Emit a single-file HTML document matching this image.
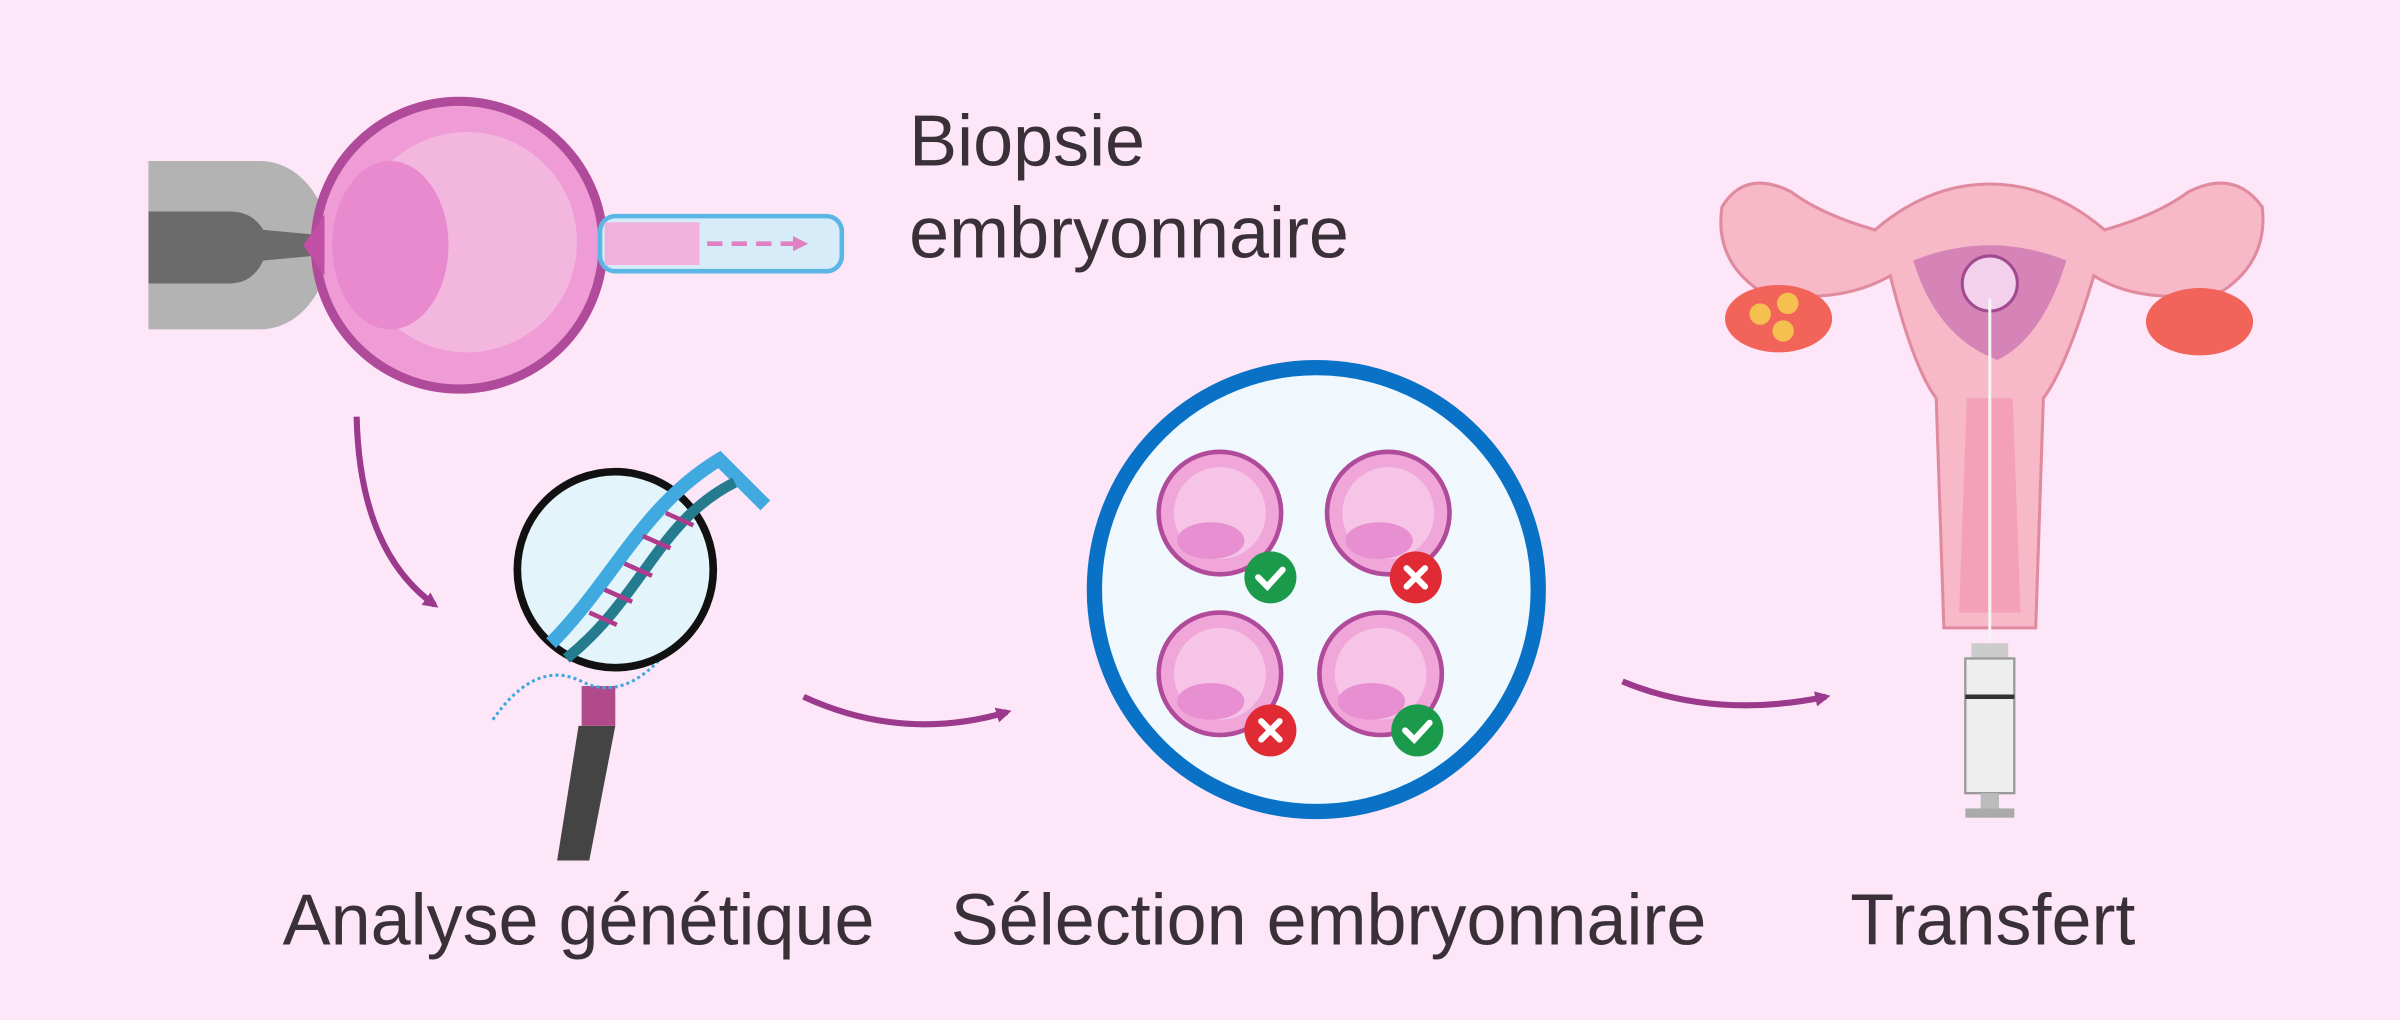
<!DOCTYPE html>
<html><head><meta charset="utf-8"><style>
html,body{margin:0;padding:0;background:#fde6f7;}
svg{display:block;}
text{font-family:"Liberation Sans","DejaVu Sans",sans-serif;fill:#3a3038;}
</style></head><body>
<svg width="2400" height="1020" viewBox="0 0 1568 666" xmlns="http://www.w3.org/2000/svg">
<defs>
<marker id="ah" markerWidth="10" markerHeight="10" refX="7" refY="5" orient="auto" markerUnits="userSpaceOnUse">
<path d="M0,0 L10,5 L0,10 z" fill="#9b3a8c"/></marker>
<marker id="ah2" markerWidth="10" markerHeight="10" refX="7" refY="5" orient="auto" markerUnits="userSpaceOnUse">
<path d="M0,0 L10,5 L0,10 z" fill="#e080c0"/></marker>
<g id="emb">
<circle r="40" fill="#f0a6d8" stroke="#b04a9a" stroke-width="3"/>
<circle r="30" fill="#f6c4e6"/>
<ellipse cx="-6" cy="18" rx="22" ry="12" fill="#e78fd0"/>
</g>
</defs>
<rect width="1568" height="666" fill="#fde6f7"/>

<path d="M97,105 H170 A45,55 0 0 1 215,160 A45,55 0 0 1 170,215 H97 Z" fill="#b3b3b3"/>
<path d="M97,138 H150 Q165,138 172,150 L205,153 V167 L172,170 Q165,185 150,185 H97 Z" fill="#6b6b6b"/>
<circle cx="300" cy="160" r="94" fill="#ef9bd5" stroke="#b04a9a" stroke-width="6"/>
<circle cx="305" cy="158" r="72" fill="#f3b6df"/>
<ellipse cx="255" cy="160" rx="38" ry="55" fill="#e88acd"/>
<path d="M198,160 L212,140 L212,180 Z" fill="#c04fa5"/>
<rect x="392" y="141" width="158" height="36" rx="10" fill="#d6ecf8" stroke="#5bb5e5" stroke-width="3"/>
<rect x="395" y="145" width="62" height="28" fill="#f0b2dc"/>
<line x1="462" y1="159" x2="525" y2="159" stroke="#e080c0" stroke-width="3" stroke-dasharray="10,6" marker-end="url(#ah2)"/>
<text x="594" y="108" font-size="47">Biopsie</text>
<text x="594" y="168" font-size="47">embryonnaire</text>

<path d="M233,272 Q235,360 284,395" fill="none" stroke="#9b3a8c" stroke-width="4" marker-end="url(#ah)"/>

<rect x="380" y="448" width="22" height="26" fill="#b04a8a"/>
<path d="M378,474 H402 L385,562 H364 Z" fill="#444"/>
<path d="M322,470 Q350,430 380,445 T440,420" fill="none" stroke="#3fa9e0" stroke-width="2" stroke-dasharray="2,2"/>
<circle cx="402" cy="372" r="64" fill="#e3f4fb" stroke="#111" stroke-width="5"/>
<path d="M360,420 C400,380 420,330 470,300 L500,330" fill="none" stroke="#3fa9e0" stroke-width="9"/>
<path d="M370,430 C420,390 430,340 480,315" fill="none" stroke="#247c8e" stroke-width="7"/>
<path d="M385,400 l18,8 M395,385 l18,8 M408,368 l18,8 M420,350 l18,8 M435,335 l18,8" stroke="#b03a8c" stroke-width="3"/>
<text x="378" y="617" font-size="47" text-anchor="middle">Analyse génétique</text>

<path d="M525,455 Q590,485 658,465" fill="none" stroke="#9b3a8c" stroke-width="4" marker-end="url(#ah)"/>

<circle cx="860" cy="385" r="145" fill="#f0f8fd" stroke="#0a72c6" stroke-width="10"/>
<use href="#emb" x="797" y="335"/>
<use href="#emb" x="907" y="335"/>
<use href="#emb" x="797" y="440"/>
<use href="#emb" x="902" y="440"/>
<g stroke="#fff" stroke-width="4" fill="none" stroke-linecap="round">
<circle cx="830" cy="377" r="17" fill="#1a9a4a" stroke="none"/><path d="M822,377 l6,6 l10,-11"/>
<circle cx="925" cy="377" r="17" fill="#e02b35" stroke="none"/><path d="M919,371 l12,12 M931,371 l-12,12"/>
<circle cx="830" cy="477" r="17" fill="#e02b35" stroke="none"/><path d="M824,471 l12,12 M836,471 l-12,12"/>
<circle cx="926" cy="477" r="17" fill="#1a9a4a" stroke="none"/><path d="M918,477 l6,6 l10,-11"/>
</g>
<text x="868" y="617" font-size="47" text-anchor="middle">Sélection embryonnaire</text>

<path d="M1060,445 Q1120,470 1193,455" fill="none" stroke="#9b3a8c" stroke-width="4" marker-end="url(#ah)"/>

<path d="M1235,180 Q1200,200 1150,190 Q1120,170 1125,135 Q1140,110 1170,125 Q1190,140 1225,150 Q1260,120 1300,120 Q1340,120 1375,150 Q1410,140 1430,125 Q1460,110 1478,135 Q1482,170 1452,190 Q1400,200 1368,180 Q1350,240 1335,260 L1330,410 H1270 L1265,260 Q1250,240 1235,180 Z" fill="#f7b8c8" stroke="#e08aa0" stroke-width="2"/>
<path d="M1250,170 Q1300,150 1350,170 Q1335,220 1305,235 Q1265,220 1250,170 Z" fill="#d684b8"/>
<circle cx="1300" cy="185" r="18" fill="#f3d0ec" stroke="#a04a90" stroke-width="2"/>
<ellipse cx="1162" cy="208" rx="35" ry="22" fill="#f2645a"/>
<circle cx="1150" cy="205" r="7" fill="#f5c050"/><circle cx="1168" cy="198" r="7" fill="#f5c050"/><circle cx="1165" cy="216" r="7" fill="#f5c050"/>
<ellipse cx="1437" cy="210" rx="35" ry="22" fill="#f2645a"/>
<path d="M1285,260 L1280,400 H1320 L1315,260 Z" fill="#f3a0b8"/>
<line x1="1300" y1="195" x2="1300" y2="420" stroke="#f4f4f4" stroke-width="2"/>
<rect x="1288" y="420" width="24" height="10" fill="#ccc"/>
<rect x="1284" y="430" width="32" height="88" fill="#eee" stroke="#999" stroke-width="1.5"/>
<line x1="1284" y1="455" x2="1316" y2="455" stroke="#333" stroke-width="3"/>
<rect x="1294" y="518" width="12" height="10" fill="#bbb"/>
<rect x="1284" y="528" width="32" height="6" fill="#aaa"/>
<text x="1302" y="617" font-size="47" text-anchor="middle">Transfert</text>
</svg>
</body></html>
